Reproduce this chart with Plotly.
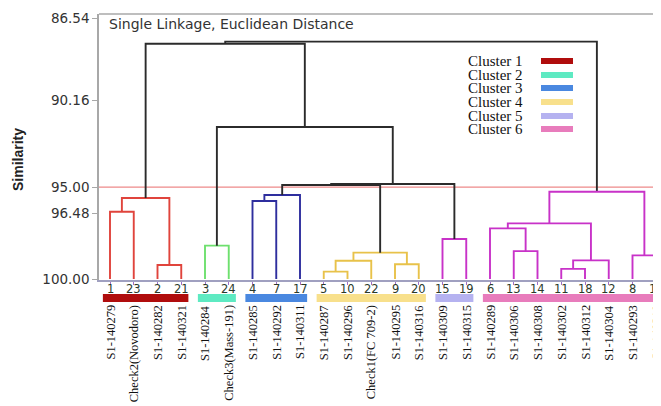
import plotly.graph_objects as go

# ---------------- data ----------------
leaf_ids = [1, 23, 2, 21, 3, 24, 4, 7, 17, 5, 10, 22, 9, 20, 15, 19, 6, 13, 14, 11, 18, 12, 8, 16]
leaf_names = ["S1-140279", "Check2(Novodoro)", "S1-140282", "S1-140321",
              "S1-140284", "Check3(Mass-191)", "S1-140285", "S1-140292", "S1-140311",
              "S1-140287", "S1-140296", "Check1(FC 709-2)", "S1-140295", "S1-140316",
              "S1-140309", "S1-140315", "S1-140289", "S1-140306", "S1-140308",
              "S1-140302", "S1-140312", "S1-140304", "S1-140293", "S1-140310"]

# merges: children are leaf ids (int) or earlier merge nodes ("n#")
merge_left = [1, 2, "n0", 3, 4, "n4", 5, "n6", 9, "n7", 15, "n5", "n11", "n3", "n2",
              13, 6, 11, "n17", "n16", 8, "n19", "n14"]
merge_right = [23, 21, "n1", 24, 7, 17, 10, 22, 20, "n8", 19, "n9", "n10", "n12", "n13",
               14, "n15", 18, 12, "n18", 16, "n20", "n21"]
merge_sim = [96.53, 99.28, 95.82, 98.28, 95.98, 95.67, 99.62, 99.06, 99.24, 98.64, 97.94,
             95.15, 95.10, 92.16, 87.87, 98.56, 97.39, 99.48, 99.04, 97.13, 98.78, 95.50, 87.76]
merge_cluster = [1, 1, 1, 2, 3, 3, 4, 4, 4, 4, 5, 0, 0, 0, 0, 6, 6, 6, 6, 6, 6, 6, 0]

cluster_names = ["Cluster 1", "Cluster 2", "Cluster 3", "Cluster 4", "Cluster 5", "Cluster 6"]
cluster_members = [[1, 23, 2, 21], [3, 24], [4, 7, 17], [5, 10, 22, 9, 20], [15, 19],
                   [6, 13, 14, 11, 18, 12, 8, 16]]
cut_similarity = 95.26
y_tick_pos = [86.54, 90.77, 95.26, 96.60, 100.00]
y_tick_labels = ["86.54", "90.16", "95.00", "96.48", "100.00"]
leaf_similarity = 100.0

# ---------------- styles ----------------
line_colors = {0: "#2b2b2b", 1: "#e0443c", 2: "#6ee06e", 3: "#2e2e9e",
               4: "#e8c24a", 5: "#c832c8", 6: "#c832c8"}
bar_colors = ["#b00d0d", "#5eeac2", "#4a88e0", "#f8e08c", "#b5b2f0", "#e87cbc"]

OFF = 8  # page body margin
W, H = 661 - OFF, 406 - OFF
L, T, R, B = 99 - OFF, 14 - OFF, 0, 406 - 280
plot_w = W - L - R
plot_h = H - T - B


def px_to_paper_x(px):  # px in screen pixels
    return (px - OFF - L) / plot_w


def px_to_paper_y(py):
    return (H - B - (py - OFF)) / plot_h


# ---------------- dendrogram geometry ----------------
pos = {lid: (i, leaf_similarity) for i, lid in enumerate(leaf_ids)}
segs = {}
for k, (a, b, s, c) in enumerate(zip(merge_left, merge_right, merge_sim, merge_cluster)):
    xa, ya = pos[a]
    xb, yb = pos[b]
    xs, ys = segs.setdefault(c, ([], []))
    xs += [xa, xa, xb, xb, None]
    ys += [ya, s, s, yb, None]
    pos["n%d" % k] = ((xa + xb) / 2, s)

fig = go.Figure()
for c, (xs, ys) in segs.items():
    fig.add_trace(go.Scatter(x=xs, y=ys, mode="lines",
                             line=dict(color=line_colors[c], width=1.9),
                             hoverinfo="skip", showlegend=False))

n = len(leaf_ids)
spacing = 23.75
x_min = (99 - 110) / spacing
x_max = x_min + plot_w / spacing

# cut line
fig.add_shape(type="line", xref="paper", yref="y", x0=0, x1=1,
              y0=cut_similarity, y1=cut_similarity,
              line=dict(color="#ee8a8a", width=1.2), layer="below")
# top border
fig.add_shape(type="line", xref="paper", yref="paper", x0=0, x1=1, y0=1, y1=1,
              line=dict(color="#a8a8a8", width=1.5))

# cluster bars under leaves
idx = {lid: i for i, lid in enumerate(leaf_ids)}
for members, col in zip(cluster_members, bar_colors):
    ii = [idx[m] for m in members]
    fig.add_shape(type="rect", xref="x", yref="paper",
                  x0=max(min(ii) - 0.3, x_min), x1=max(ii) + 0.3,
                  y0=px_to_paper_y(302), y1=px_to_paper_y(294),
                  line=dict(width=0), fillcolor=col)

# leaf numbers and names
for i, (lid, name) in enumerate(zip(leaf_ids, leaf_names)):
    fig.add_annotation(x=i, xref="x", y=px_to_paper_y(288.5), yref="paper",
                       text=str(lid), showarrow=False,
                       xanchor="center", yanchor="middle",
                       font=dict(family="DejaVu Sans", size=11.5, color="#2a3a2a"))
    fig.add_annotation(x=i, xref="x", y=px_to_paper_y(303), yref="paper",
                       text=name, textangle=-90, showarrow=False,
                       xanchor="center", yanchor="top",
                       font=dict(family="Liberation Serif", size=12.5, color="#111"))

# legend
row_y = [61, 75, 88, 102, 116, 129]
for name, col, ry in zip(cluster_names, bar_colors, row_y):
    fig.add_annotation(x=px_to_paper_x(466), xref="paper", y=px_to_paper_y(ry), yref="paper",
                       text=name, showarrow=False, xanchor="left", yanchor="middle",
                       font=dict(family="Liberation Serif", size=15, color="#111"))
    fig.add_shape(type="rect", xref="paper", yref="paper",
                  x0=px_to_paper_x(541), x1=px_to_paper_x(573),
                  y0=px_to_paper_y(ry + 3), y1=px_to_paper_y(ry - 3),
                  line=dict(width=0), fillcolor=col)

# title in plot
fig.add_annotation(x=px_to_paper_x(107), xref="paper", y=px_to_paper_y(24), yref="paper",
                   text="Single Linkage, Euclidean Distance", showarrow=False,
                   xanchor="left", yanchor="middle",
                   font=dict(family="DejaVu Sans", size=14, color="#333"))
# y title
fig.add_annotation(x=px_to_paper_x(18), xref="paper", y=px_to_paper_y(160), yref="paper",
                   text="<b>Similarity</b>", textangle=-90, showarrow=False,
                   xanchor="center", yanchor="middle",
                   font=dict(family="Liberation Sans", size=14, color="#222"))

y_top = 86.54 - 4 * (13.46 / 261)
y_bot = 100.0 + 1 * (13.46 / 261)

fig.update_layout(
    width=W, height=H,
    margin=dict(l=L, r=R, t=T, b=B, pad=0),
    plot_bgcolor="white", paper_bgcolor="white",
    xaxis=dict(range=[x_min, x_max], tickmode="array", tickvals=list(range(n)),
               showticklabels=False, showgrid=False, zeroline=False,
               showline=True, linecolor="#a0a0c0", linewidth=1.5,
               ticks="outside", ticklen=3, tickcolor="#a070c8"),
    yaxis=dict(range=[y_bot, y_top], tickmode="array", tickvals=y_tick_pos,
               ticktext=y_tick_labels, showgrid=False, zeroline=False,
               showline=True, linecolor="#a8a8a8", linewidth=1.5,
               ticks="outside", ticklen=5, tickcolor="#a8a8a8",
               tickfont=dict(family="DejaVu Sans", size=13.5, color="#333")),
)

fig.write_html("out.html")
